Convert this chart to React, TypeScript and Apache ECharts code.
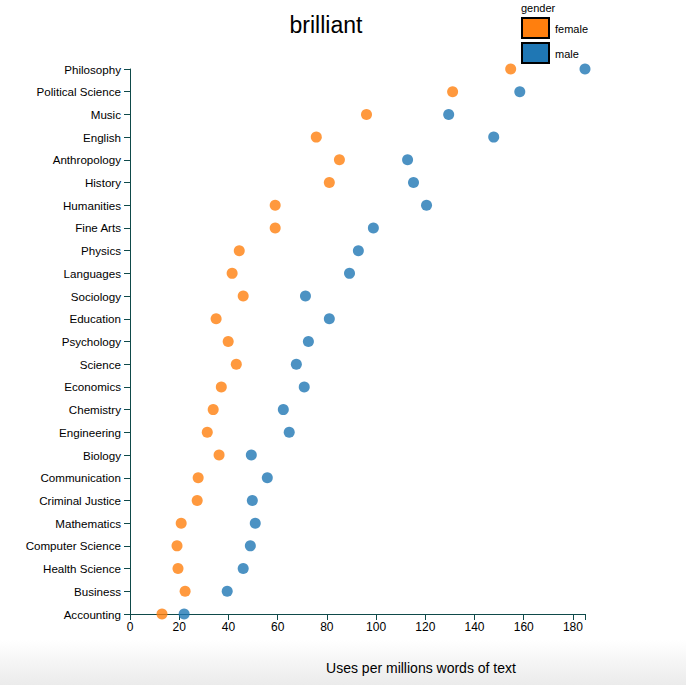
import React, { useEffect, useRef } from "react";
import * as echarts from "echarts";

const categories = [
  "Philosophy", "Political Science", "Music", "English", "Anthropology", "History",
  "Humanities", "Fine Arts", "Physics", "Languages", "Sociology", "Education",
  "Psychology", "Science", "Economics", "Chemistry", "Engineering", "Biology",
  "Communication", "Criminal Justice", "Mathematics", "Computer Science",
  "Health Science", "Business", "Accounting",
];
const femaleValues = [
  154.7, 131.1, 96.1, 75.7, 85.1, 81.0, 59.0, 59.0, 44.4, 41.5, 46.0, 35.0,
  39.9, 43.2, 37.1, 33.8, 31.4, 36.2, 27.7, 27.3, 20.8, 19.1, 19.5, 22.4, 13.0,
];
const maleValues = [
  184.9, 158.4, 129.5, 147.8, 112.8, 115.2, 120.5, 98.9, 92.8, 89.2, 71.3, 81.0,
  72.5, 67.6, 70.8, 62.3, 64.7, 49.3, 55.8, 49.7, 50.9, 48.9, 46.0, 39.5, 22.0,
];
const xTicks = [0, 20, 40, 60, 80, 100, 120, 140, 160, 180];
const legendNames = ["female", "male"];
const legendColors = ["#ff7f0e", "#1f77b4"];

const FONT = "'Liberation Sans', Arial, Helvetica, sans-serif";
const AXIS = "#0f4a4a";

export default function App() {
  const ref = useRef<HTMLDivElement>(null);
  useEffect(() => {
    document.body.style.margin = "0";
    const chart = echarts.init(ref.current!, null, { renderer: "svg" });
    const xMax = Math.max(...maleValues, ...femaleValues);
    const legendGraphics: any[] = [];
    legendNames.forEach((name, i) => {
      legendGraphics.push({
        type: "rect",
        shape: { x: 522, y: 18 + i * 25, width: 27, height: 20 },
        style: { fill: legendColors[i], stroke: "#000", lineWidth: 2 },
      });
      legendGraphics.push({
        type: "text",
        x: 555,
        y: 29 + i * 25,
        style: { text: name, fontSize: 11, fill: "#000", fontFamily: FONT, textVerticalAlign: "middle" },
      });
    });
    chart.setOption({
      animation: false,
      backgroundColor: "#fff",
      textStyle: { fontFamily: FONT },
      grid: { left: 130, right: 686 - 585, top: 69, bottom: 685 - 614, containLabel: false },
      xAxis: {
        type: "value",
        min: 0,
        max: xMax,
        interval: 20,
        axisLine: { show: true, lineStyle: { color: AXIS, width: 1 } },
        axisTick: { show: true, length: 6, lineStyle: { color: AXIS } },
        axisLabel: {
          color: "#000",
          fontSize: 12,
          margin: 7,
          fontFamily: FONT,
          formatter: (v: number) => (xTicks.includes(v) ? String(v) : ""),
          showMaxLabel: false,
        },
        splitLine: { show: false },
      },
      yAxis: {
        type: "category",
        data: categories,
        inverse: true,
        boundaryGap: false,
        axisLine: { show: true, lineStyle: { color: AXIS, width: 1 } },
        axisTick: { show: true, length: 6, alignWithLabel: true, lineStyle: { color: AXIS } },
        axisLabel: { color: "#000", fontSize: 11.6, margin: 9, fontFamily: FONT, interval: 0 },
        splitLine: { show: false },
      },
      graphic: [
        {
          type: "rect",
          z: -10,
          silent: true,
          shape: { x: 0, y: 640, width: 686, height: 45 },
          style: {
            fill: new echarts.graphic.LinearGradient(0, 0, 0, 1, [
              { offset: 0, color: "#ffffff" },
              { offset: 1, color: "#ebebeb" },
            ]),
          },
        },
        {
          type: "line",
          shape: { x1: 585.5, y1: 614, x2: 585.5, y2: 620 },
          style: { stroke: AXIS, lineWidth: 1 },
        },
        {
          type: "text",
          x: 326,
          y: 25,
          style: {
            text: "brilliant",
            fontSize: 23,
            fill: "#000",
            fontFamily: FONT,
            textAlign: "center",
            textVerticalAlign: "middle",
          },
        },
        {
          type: "text",
          x: 521,
          y: 8,
          style: { text: "gender", fontSize: 11, fill: "#000", fontFamily: FONT, textVerticalAlign: "middle" },
        },
        ...legendGraphics,
        {
          type: "text",
          x: 421,
          y: 668,
          style: {
            text: "Uses per millions words of text",
            fontSize: 14,
            fill: "#000",
            fontFamily: FONT,
            textAlign: "center",
            textVerticalAlign: "middle",
          },
        },
      ],
      series: [
        {
          name: "female",
          type: "scatter",
          symbolSize: 11,
          itemStyle: { color: "#ff7f0e", opacity: 0.8 },
          data: femaleValues.map((v, i) => [v, categories[i]]),
        },
        {
          name: "male",
          type: "scatter",
          symbolSize: 11,
          itemStyle: { color: "#1f77b4", opacity: 0.8 },
          data: maleValues.map((v, i) => [v, categories[i]]),
        },
      ],
    });
    return () => chart.dispose();
  }, []);
  return (
    <div
      ref={ref}
      style={{ position: "fixed", left: 0, top: 0, width: 686, height: 685 }}
    />
  );
}
